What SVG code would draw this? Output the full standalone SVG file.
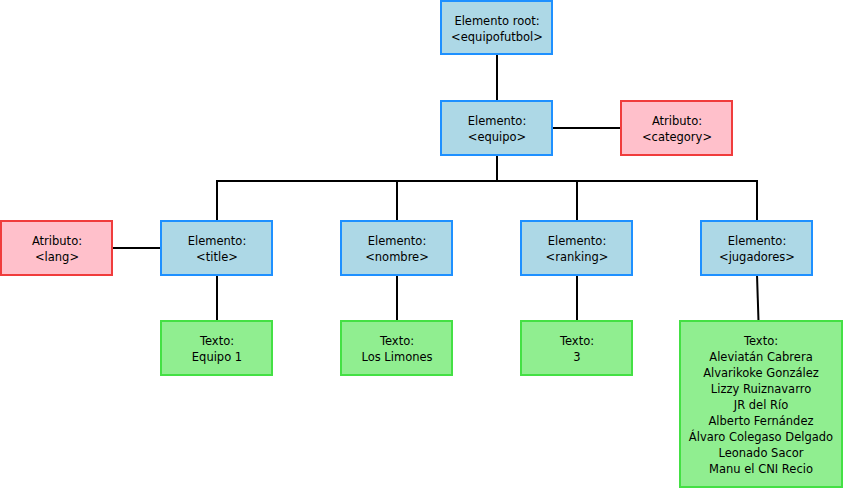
<svg xmlns="http://www.w3.org/2000/svg" width="843" height="488" viewBox="0 0 843 488">
<style>
.el{fill:#add8e6;stroke:#1e90ff;stroke-width:2}
.at{fill:#ffc0cb;stroke:#f03c3c;stroke-width:2}
.tx{fill:#90ee90;stroke:#44e044;stroke-width:2}
text{font-family:"DejaVu Sans",Verdana,sans-serif;font-size:11.5px;fill:#000;text-anchor:middle}
.c{stroke:#000;stroke-width:2;fill:none}
</style>
<rect width="843" height="488" fill="#fff"/>
<g id="connectors">
<line class="c" x1="497" y1="55" x2="497" y2="101"/>
<line class="c" x1="497" y1="155" x2="497" y2="181"/>
<line class="c" x1="552" y1="128" x2="621" y2="128"/>
<line class="c" x1="216" y1="181" x2="758" y2="181"/>
<line class="c" x1="217" y1="181" x2="217" y2="221"/>
<line class="c" x1="397" y1="181" x2="397" y2="221"/>
<line class="c" x1="577" y1="181" x2="577" y2="221"/>
<line class="c" x1="757" y1="181" x2="757" y2="221"/>
<line class="c" x1="112" y1="248" x2="161" y2="248"/>
<line class="c" x1="217" y1="275" x2="217" y2="321"/>
<line class="c" x1="397" y1="275" x2="397" y2="321"/>
<line class="c" x1="577" y1="275" x2="577" y2="321"/>
<line class="c" x1="757" y1="275" x2="758.5" y2="321"/>
</g>
<g id="root"><rect class="el" x="441" y="1" width="111" height="53"/><text x="497" y="25">Elemento root:</text><text x="497" y="41">&lt;equipofutbol&gt;</text></g>
<g id="equipo"><rect class="el" x="441" y="101" width="111" height="54"/><text x="497" y="125">Elemento:</text><text x="497" y="141">&lt;equipo&gt;</text></g>
<g id="category"><rect class="at" x="621" y="101" width="111" height="54"/><text x="677" y="125">Atributo:</text><text x="677" y="141">&lt;category&gt;</text></g>
<g id="lang"><rect class="at" x="1" y="221" width="111" height="54"/><text x="57" y="245">Atributo:</text><text x="57" y="261">&lt;lang&gt;</text></g>
<g id="title"><rect class="el" x="161" y="221" width="111" height="54"/><text x="217" y="245">Elemento:</text><text x="217" y="261">&lt;title&gt;</text></g>
<g id="nombre"><rect class="el" x="341" y="221" width="111" height="54"/><text x="397" y="245">Elemento:</text><text x="397" y="261">&lt;nombre&gt;</text></g>
<g id="ranking"><rect class="el" x="521" y="221" width="111" height="54"/><text x="577" y="245">Elemento:</text><text x="577" y="261">&lt;ranking&gt;</text></g>
<g id="jugadores"><rect class="el" x="701" y="221" width="111" height="54"/><text x="757" y="245">Elemento:</text><text x="757" y="261">&lt;jugadores&gt;</text></g>
<g id="texto-title"><rect class="tx" x="161" y="321" width="111" height="54"/><text x="217" y="345">Texto:</text><text x="217" y="361">Equipo 1</text></g>
<g id="texto-nombre"><rect class="tx" x="341" y="321" width="111" height="54"/><text x="397" y="345">Texto:</text><text x="397" y="361">Los Limones</text></g>
<g id="texto-ranking"><rect class="tx" x="521" y="321" width="111" height="54"/><text x="577" y="345">Texto:</text><text x="577" y="361">3</text></g>
<g id="texto-jugadores"><rect class="tx" x="680" y="321" width="162" height="166"/>
<text x="761" y="345">Texto:</text>
<text x="761" y="361">Aleviatán Cabrera</text>
<text x="761" y="377">Alvarikoke González</text>
<text x="761" y="393">Lizzy Ruiznavarro</text>
<text x="761" y="409">JR del Río</text>
<text x="761" y="425">Alberto Fernández</text>
<text x="761" y="441">Álvaro Colegaso Delgado</text>
<text x="761" y="457">Leonado Sacor</text>
<text x="761" y="473">Manu el CNI Recio</text>
</g>
</svg>
